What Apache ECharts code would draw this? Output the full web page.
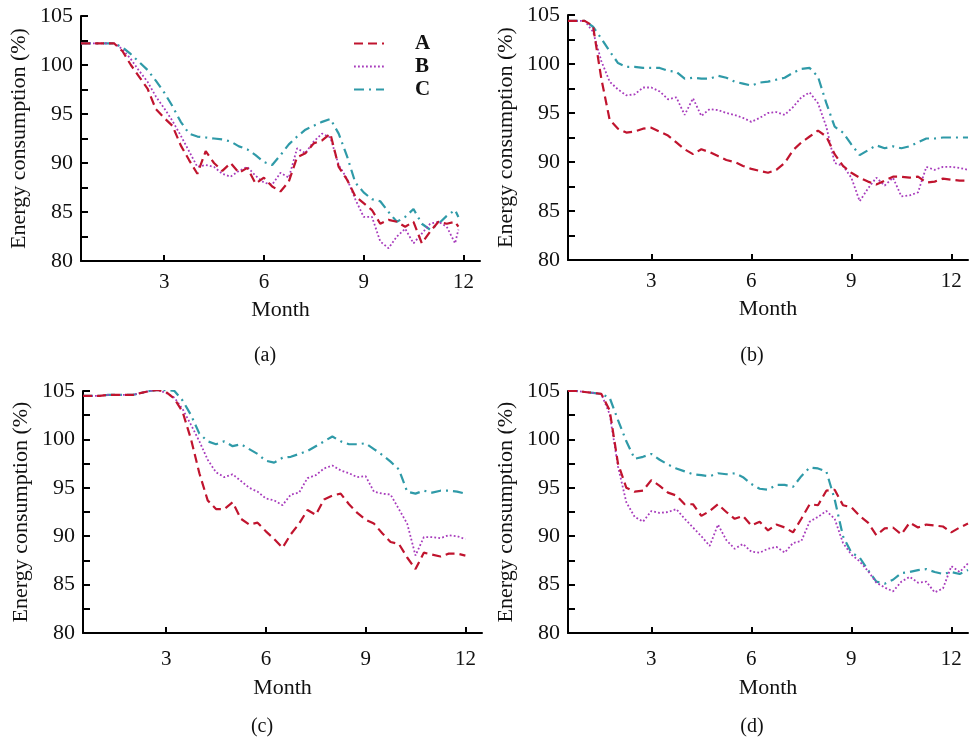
<!DOCTYPE html>
<html><head><meta charset="utf-8">
<script src="https://cdn.jsdelivr.net/npm/echarts@6/dist/echarts.min.js"></script>
<style>html,body{margin:0;padding:0;background:#fff}#c{width:978px;height:737px}</style>
</head><body><div id="c"></div>
<script>
// ---- data (month, energy consumption %) ----
const monthsA = [0.5,0.75,1,1.25,1.5,1.75,2,2.25,2.5,2.75,3,3.25,3.5,3.75,4,4.25,4.5,4.75,5,5.25,5.5,5.75,6,6.25,6.5,6.75,7,7.25,7.5,7.75,8,8.25,8.5,8.75,9,9.25,9.5,9.75,10,10.25,10.5,10.75,11,11.25,11.5,11.75,11.85];
const a_A = [102.2,102.2,102.2,102.2,102.2,101.4,100.0,98.8,97.6,95.5,94.6,93.8,91.8,90.3,88.9,91.2,90.0,89.2,90.0,89.0,89.5,87.9,88.5,87.6,87.1,88.1,90.6,91.0,92.0,92.3,93.0,89.6,88.3,86.6,85.9,85.2,83.8,84.2,84.0,83.5,84.0,81.8,83.0,84.0,83.8,84.0,83.5];
const a_B = [102.2,102.2,102.2,102.2,102.2,101.6,100.6,99.4,98.3,96.8,95.6,94.3,92.8,91.2,89.6,89.8,89.6,88.9,88.6,89.2,89.6,88.7,88.0,87.8,89.0,88.5,91.5,91.0,92.2,93.0,92.6,89.8,88.4,86.3,84.5,84.5,82.0,81.3,82.5,83.3,81.8,82.8,83.8,84.0,83.5,81.8,83.2];
const a_C = [102.2,102.2,102.2,102.2,102.2,101.8,101.1,100.3,99.5,98.4,97.2,95.8,94.2,93.0,92.7,92.6,92.5,92.4,92.2,91.7,91.4,90.8,90.1,89.8,90.8,91.9,92.7,93.4,93.8,94.2,94.5,93.0,90.7,88.0,87.0,86.3,86.1,85.0,84.0,84.5,85.3,83.8,83.2,83.8,84.6,85.2,84.5];

const monthsB = [0.5,0.75,1,1.25,1.5,1.75,2,2.25,2.5,2.75,3,3.25,3.5,3.75,4,4.25,4.5,4.75,5,5.25,5.5,5.75,6,6.25,6.5,6.75,7,7.25,7.5,7.75,8,8.25,8.5,8.75,9,9.25,9.5,9.75,10,10.25,10.5,10.75,11,11.25,11.5,11.75,12,12.25,12.5];
const b_A = [104.4,104.4,104.4,103.9,98.5,94.3,93.4,93.0,93.1,93.4,93.5,93.1,92.7,92.0,91.3,90.8,91.3,91.0,90.6,90.2,90.0,89.6,89.3,89.1,88.9,89.2,89.9,91.2,92.0,92.6,93.2,92.6,90.8,89.6,88.9,88.4,88.0,87.7,88.1,88.5,88.5,88.4,88.5,87.9,88.0,88.3,88.2,88.1,88.1];
const b_B = [104.4,104.4,104.4,103.3,100.3,98.2,97.4,96.8,96.9,97.6,97.6,97.2,96.4,96.6,94.8,96.5,94.7,95.4,95.3,95.0,94.8,94.5,94.1,94.5,95.0,95.1,94.8,95.6,96.6,97.1,96.0,93.6,89.9,89.6,88.4,86.0,87.3,88.4,87.6,88.4,86.5,86.6,86.9,89.5,89.2,89.5,89.5,89.4,89.2];
const b_C = [104.4,104.4,104.4,103.8,102.6,101.3,100.1,99.7,99.7,99.6,99.6,99.6,99.3,99.2,98.5,98.6,98.5,98.5,98.8,98.6,98.2,98.0,97.8,98.1,98.2,98.4,98.6,99.1,99.5,99.6,98.7,96.0,93.6,93.0,91.8,90.7,91.2,91.7,91.4,91.6,91.4,91.6,92.0,92.4,92.4,92.5,92.5,92.5,92.5];

const monthsC = [0.5,0.75,1,1.25,1.5,1.75,2,2.25,2.5,2.75,3,3.25,3.5,3.75,4,4.25,4.5,4.75,5,5.25,5.5,5.75,6,6.25,6.5,6.75,7,7.25,7.5,7.75,8,8.25,8.5,8.75,9,9.25,9.5,9.75,10,10.25,10.5,10.75,11,11.25,11.5,11.75,12];
const c_A = [104.5,104.5,104.5,104.6,104.6,104.6,104.6,104.8,105.0,105.1,104.9,104.2,102.8,100.0,96.5,93.7,92.8,92.8,93.5,91.8,91.2,91.4,90.5,89.7,88.8,90.2,91.3,92.7,92.2,93.8,94.2,94.4,93.3,92.4,91.7,91.3,90.3,89.4,89.2,87.8,86.6,88.3,88.1,87.9,88.2,88.2,88.0];
const c_B = [104.5,104.5,104.5,104.6,104.6,104.6,104.6,104.8,105.0,105.1,104.8,104.3,103.1,101.5,99.8,97.9,96.6,96.1,96.4,95.7,95.0,94.6,93.9,93.7,93.2,94.3,94.5,96.0,96.3,97.0,97.3,96.8,96.5,96.1,96.2,94.6,94.4,94.3,92.8,91.3,88.0,89.9,89.9,89.8,90.1,90.0,89.7];
const c_C = [104.5,104.5,104.5,104.6,104.6,104.6,104.6,104.8,105.0,105.1,105.1,105.0,104.0,102.5,100.6,99.8,99.5,99.8,99.3,99.5,99.0,98.5,97.8,97.6,98.1,98.2,98.5,98.8,99.3,99.8,100.3,99.8,99.5,99.5,99.6,99.0,98.4,97.7,96.9,94.6,94.4,94.7,94.5,94.7,94.7,94.6,94.4];

const monthsD = [0.5,0.75,1,1.25,1.5,1.75,2,2.25,2.5,2.75,3,3.25,3.5,3.75,4,4.25,4.5,4.75,5,5.25,5.5,5.75,6,6.25,6.5,6.75,7,7.25,7.5,7.75,8,8.25,8.5,8.75,9,9.25,9.5,9.75,10,10.25,10.5,10.75,11,11.25,11.5,11.75,12,12.25,12.5];
const d_A = [105.0,105.0,104.9,104.8,104.7,103.0,97.5,95.0,94.6,94.7,95.8,95.2,94.5,94.2,93.3,93.3,92.1,92.6,93.3,92.5,91.8,92.1,91.1,91.5,90.6,91.2,90.9,90.4,91.8,93.3,93.2,94.7,94.8,93.2,93.0,92.1,91.4,90.1,90.8,90.9,90.2,91.4,90.9,91.2,91.1,91.0,90.4,90.9,91.3];
const d_B = [105.0,105.0,104.9,104.8,104.7,102.6,97.2,93.5,92.0,91.5,92.6,92.4,92.5,92.8,91.8,90.9,90.0,89.0,91.2,89.6,88.7,89.2,88.4,88.3,88.7,88.9,88.3,89.3,89.5,91.5,92.0,92.6,91.8,89.3,88.1,87.4,86.4,85.2,84.7,84.3,85.3,85.8,85.2,85.3,84.2,84.6,86.9,86.3,87.2];
const d_C = [105.0,105.0,104.9,104.8,104.7,104.3,102.0,99.8,98.0,98.2,98.5,97.9,97.4,97.0,96.7,96.4,96.3,96.2,96.5,96.4,96.5,96.1,95.4,94.9,94.8,95.3,95.3,95.1,96.2,97.1,97.0,96.7,93.8,90.0,88.3,87.8,86.5,85.3,85.1,85.5,86.2,86.3,86.5,86.6,86.3,86.1,86.3,86.1,86.5];

const seriesNames = ['A','B','C'];
const xTickValues = [3,6,9,12];
const captions = ['(a)','(b)','(c)','(d)'];
const yTitle = 'Energy consumption (%)';
const xTitle = 'Month';

// ---- layout / styles ----
const FONT = '"Liberation Serif", "Times New Roman", serif';
const colors = {A:'#c0142e', B:'#a83cbc', C:'#2f9aa8'};
const lineTypes = {
  A:{width:2.2, type:[9,5]},
  B:{width:1.8, type:[1.8,2.2]},
  C:{width:2.2, type:[10,5,2,5]}
};
const panels = [
  {m:monthsA, v:[a_A,a_B,a_C], grid:{left:81, top:16, width:399, height:245}, lm:11, ng:38, cap:[265,356]},
  {m:monthsB, v:[b_A,b_B,b_C], grid:{left:568, top:15, width:400, height:245}, lm:11, ng:38, cap:[752,356]},
  {m:monthsC, v:[c_A,c_B,c_C], grid:{left:83, top:391, width:399, height:242}, lm:16, ng:44, cap:[262,727]},
  {m:monthsD, v:[d_A,d_B,d_C], grid:{left:568, top:391, width:400, height:242}, lm:16, ng:44, cap:[752,727]}
];

const grids=[], xAxes=[], yAxes=[], series=[], graphics=[];
panels.forEach((p,i)=>{
  grids.push(Object.assign({containLabel:false}, p.grid));
  xAxes.push({
    type:'value', gridIndex:i, min:0.5, max:12.5,
    name:xTitle, nameLocation:'middle', nameGap:p.ng,
    nameTextStyle:{fontFamily:FONT, fontSize:22, color:'#111'},
    axisLine:{show:true, onZero:false, lineStyle:{color:'#000', width:2}},
    axisTick:{show:true, inside:true, length:6, customValues:xTickValues, lineStyle:{color:'#000', width:2}},
    axisLabel:{customValues:xTickValues, fontFamily:FONT, fontSize:21, color:'#111', margin:p.lm},
    splitLine:{show:false}
  });
  yAxes.push({
    type:'value', gridIndex:i, min:80, max:105, interval:5,
    name:yTitle, nameLocation:'middle', nameGap:51, nameRotate:90,
    nameTextStyle:{fontFamily:FONT, fontSize:22, color:'#111'},
    axisLine:{show:true, onZero:false, lineStyle:{color:'#000', width:2}},
    axisTick:{show:true, inside:true, length:7, lineStyle:{color:'#000', width:2}},
    minorTick:{show:true, splitNumber:2, length:7, lineStyle:{color:'#000', width:2}},
    axisLabel:{fontFamily:FONT, fontSize:22, color:'#111', margin:8},
    splitLine:{show:false}, minorSplitLine:{show:false}
  });
  seriesNames.forEach((n,k)=>{
    series.push({
      name:n, type:'line', xAxisIndex:i, yAxisIndex:i,
      data:p.m.map((mm,j)=>[mm, p.v[k][j]]),
      symbol:'none', smooth:false, animation:false,
      lineStyle:Object.assign({color:colors[n]}, lineTypes[n]),
      itemStyle:{color:colors[n]},
      z: 3-k
    });
  });
  graphics.push({type:'text', x:p.cap[0], y:p.cap[1],
    style:{text:captions[i], font:'20px '+FONT, fill:'#111', textAlign:'center', textVerticalAlign:'middle'}});
});

const chart = echarts.init(document.getElementById('c'), null, {renderer:'canvas'});
chart.setOption({
  backgroundColor:'#fff',
  animation:false,
  grid:grids, xAxis:xAxes, yAxis:yAxes, series:series,
  legend:{
    data:seriesNames, orient:'vertical', left:348, top:28,
    itemWidth:30, itemHeight:14, itemGap:2,
    itemStyle:{opacity:0},
    textStyle:{fontFamily:FONT, fontSize:21, fontWeight:'bold', color:'#111', lineHeight:18, padding:[0,0,0,26]}
  },
  graphic:graphics
});
</script></body></html>
